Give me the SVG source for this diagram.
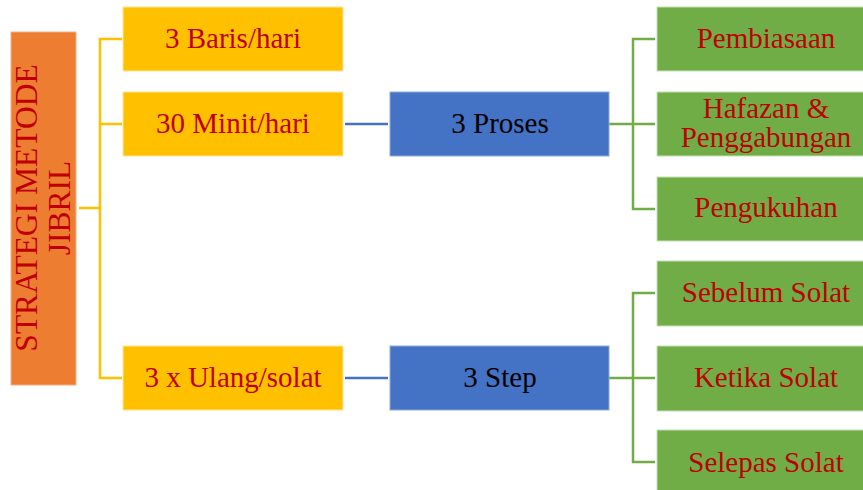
<svg xmlns="http://www.w3.org/2000/svg" width="863" height="490" viewBox="0 0 863 490">
<style>
.t{font-family:"Liberation Serif","Times New Roman",serif;font-size:29px;fill:#C00000;text-anchor:middle}
.tb{font-family:"Liberation Serif","Times New Roman",serif;font-size:29px;fill:#000;text-anchor:middle}
.y{fill:#FFC000;stroke:#FFE699;stroke-width:1}
.b{fill:#4472C4;stroke:#8FAADC;stroke-width:1}
.g{fill:#70AD47;stroke:#C5E0B4;stroke-width:1}
.cy{stroke:#FFC000;stroke-width:2.5;fill:none}
.cb{stroke:#4472C4;stroke-width:2.5;fill:none}
.cg{stroke:#70AD47;stroke-width:2.5;fill:none}
</style>
<rect width="863" height="490" fill="#fff"/>
<g id="connectors">
<path class="cy" d="M79 208H100M122 39H100V378H122M100 124H122"/>
<path class="cb" d="M345 124H388M345 378H388"/>
<path class="cg" d="M609 124H633M655 39H633V209H655M633 124H655"/>
<path class="cg" d="M609 378H633M655 293H633V462H655M633 378H655"/>
</g>
<g id="root">
<rect x="11" y="32" width="65" height="353" fill="#ED7D31" stroke="#F4B183" stroke-width="1"/>
<text class="t" style="font-size:31.5px" transform="translate(37,208) rotate(-90)">STRATEGI METODE</text>
<text class="t" style="font-size:31.5px" transform="translate(70,208) rotate(-90)">JIBRIL</text>
</g>
<g id="baris"><rect class="y" x="123" y="7" width="220" height="64"/><text class="t" x="233" y="48">3 Baris/hari</text></g>
<g id="minit"><rect class="y" x="123" y="92" width="220" height="64"/><text class="t" x="233" y="133">30 Minit/hari</text></g>
<g id="ulang"><rect class="y" x="123" y="346" width="220" height="64"/><text class="t" x="233" y="387">3 x Ulang/solat</text></g>
<g id="proses"><rect class="b" x="390" y="92" width="219" height="64"/><text class="tb" x="500" y="133">3 Proses</text></g>
<g id="step"><rect class="b" x="390" y="346" width="219" height="64"/><text class="tb" x="500" y="387">3 Step</text></g>
<g id="pembiasaan"><rect class="g" x="657" y="7" width="220" height="64"/><text class="t" x="766" y="48">Pembiasaan</text></g>
<g id="hafazan"><rect class="g" x="657" y="92" width="220" height="64"/><text class="t" x="766" y="118">Hafazan &amp;</text><text class="t" x="766" y="147">Penggabungan</text></g>
<g id="pengukuhan"><rect class="g" x="657" y="177" width="220" height="64"/><text class="t" x="766" y="217">Pengukuhan</text></g>
<g id="sebelum"><rect class="g" x="657" y="261" width="220" height="65"/><text class="t" x="766" y="302">Sebelum Solat</text></g>
<g id="ketika"><rect class="g" x="657" y="346" width="220" height="65"/><text class="t" x="766" y="387">Ketika Solat</text></g>
<g id="selepas"><rect class="g" x="657" y="430" width="220" height="65"/><text class="t" x="766" y="472">Selepas Solat</text></g>
</svg>
